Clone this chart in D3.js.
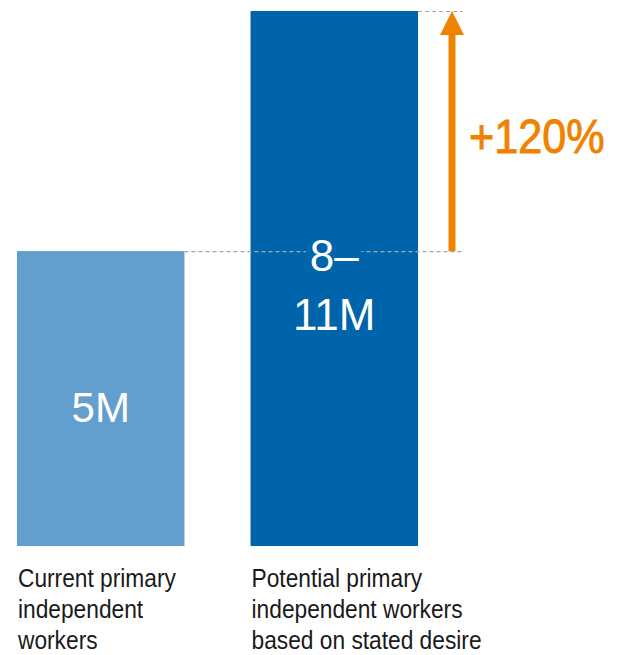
<!DOCTYPE html>
<html>
<head>
<meta charset="utf-8">
<script src="https://cdn.jsdelivr.net/npm/d3@7"></script>
<style>
  html, body { margin: 0; padding: 0; background: #fff; }
  svg { display: block; }
  text { font-family: "Liberation Sans", Arial, Helvetica, sans-serif; }
</style>
</head>
<body>
<svg id="chart" width="623" height="655"></svg>
<script>
// ---- data ----
const categories = ["current", "potential"];
const values = [5, 9.07];               // bar heights as drawn (millions)
const valueLabels = [["5M"], ["8–", "11M"]];
const categoryLabels = [
  ["Current primary", "independent", "workers"],
  ["Potential primary", "independent workers", "based on stated desire"]
];
const growthLabel = "+120%";

// ---- styling ----
const colors = ["#639fce", "#0064ab"];
const orange = "#ef8200";
const baseY = 546, topY = 11;
const condense = 0.875;

const svg = d3.select("#chart");

const x = d3.scaleBand().domain(categories).range([17, 418]).paddingInner(0.283).paddingOuter(0);
const y = d3.scaleLinear().domain([0, d3.max(values)]).range([baseY, topY]);

// bars
svg.selectAll("rect.bar").data(categories).join("rect")
  .attr("class", "bar")
  .attr("x", d => x(d))
  .attr("y", (d, i) => y(values[i]))
  .attr("width", x.bandwidth())
  .attr("height", (d, i) => baseY - y(values[i]))
  .attr("fill", (d, i) => colors[i]);

// dashed reference lines
const lineEnd = 463;
[0, 1].forEach(i => {
  svg.append("line")
    .attr("x1", x(categories[i]) + x.bandwidth()).attr("x2", lineEnd)
    .attr("y1", y(values[i]) + 0.5).attr("y2", y(values[i]) + 0.5)
    .attr("stroke", "#a6a6a6").attr("stroke-width", 1.2).attr("stroke-dasharray", "4,3");
});

// value labels
svg.append("text")
  .attr("x", x(categories[0]) + x.bandwidth() / 2)
  .attr("y", 422)
  .attr("text-anchor", "middle")
  .attr("fill", "#fff")
  .attr("font-size", 42)
  .text(valueLabels[0][0]);

const v2 = svg.append("text")
  .attr("text-anchor", "middle")
  .attr("fill", "#fff")
  .attr("font-size", 44)
  .attr("stroke", colors[1]).attr("stroke-width", 14)
  .attr("paint-order", "stroke")
  .attr("stroke-linejoin", "round");
valueLabels[1].forEach((t, i) => {
  v2.append("tspan")
    .attr("x", x(categories[1]) + x.bandwidth() / 2)
    .attr("y", 271 + i * 59)
    .text(t);
});

// arrow
const ax = 452;
const headH = 24, headW = 24, shaftW = 7;
svg.append("rect")
  .attr("x", ax - shaftW / 2).attr("y", y(values[1]) + headH - 1)
  .attr("width", shaftW).attr("height", y(values[0]) - y(values[1]) - headH + 1)
  .attr("fill", orange);
svg.append("path")
  .attr("d", d3.line()([
    [ax - headW / 2, y(values[1]) + headH],
    [ax + headW / 2, y(values[1]) + headH],
    [ax, y(values[1])]
  ]) + "Z")
  .attr("fill", orange);

svg.append("g")
  .attr("transform", `translate(469,153) scale(0.9,1)`)
  .append("text")
  .attr("fill", orange)
  .attr("stroke", orange).attr("stroke-width", 0.9)
  .attr("font-size", 48)
  .text(growthLabel);

// category labels
categoryLabels.forEach((lines, i) => {
  const g = svg.append("g")
    .attr("transform", `translate(${x(categories[i]) + 1},587) scale(${condense},1)`);
  const t = g.append("text")
    .attr("fill", "#1a1a1a")
    .attr("font-size", 26);
  lines.forEach((l, j) => {
    t.append("tspan")
      .attr("x", 0)
      .attr("y", j * 31)
      .text(l);
  });
});
</script>
</body>
</html>
